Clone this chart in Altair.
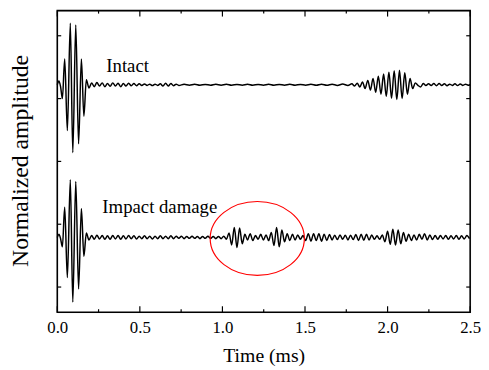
import altair as alt
import pandas as pd

# ---- axis ticks / labels ----
X_TICKS = [0.0, 0.5, 1.0, 1.5, 2.0, 2.5]
X_MINOR = [0.25, 0.75, 1.25, 1.75, 2.25]
Y_TICKS = [-2, -1, 0, 1, 2]

# vertical offsets of the two traces (normalized units)
INTACT_OFFSET = 1.22
DAMAGE_OFFSET = -1.21

# ---- Intact trace: (time ms, amplitude) extrema ----
intact_burst = [(0.000, 0.00), (0.010, 0.06), (0.020, -0.03), (0.031, -0.22), (0.045, 0.41),
                (0.061, -0.73), (0.079, 0.98), (0.094, -1.08), (0.112, 0.95), (0.129, -0.94),
                (0.146, 0.41), (0.161, -0.50), (0.176, 0.08)]
intact_tail = [(0.192, -0.05), (0.208, 0.03), (0.224, -0.03), (0.240, 0.035), (0.256, -0.02),
               (0.272, 0.03), (0.288, -0.03), (0.304, 0.02), (0.320, -0.025), (0.336, 0.03),
               (0.352, -0.02), (0.368, 0.025), (0.384, -0.03), (0.400, 0.02), (0.416, -0.02),
               (0.432, 0.025), (0.448, -0.015), (0.464, 0.02), (0.480, -0.015), (0.496, 0.015),
               (0.512, -0.01), (0.528, 0.012), (0.544, -0.01), (0.560, 0.01), (0.576, -0.012),
               (0.592, 0.01), (0.608, -0.01), (0.624, 0.015), (0.640, -0.02), (0.656, 0.025),
               (0.672, -0.02), (0.688, 0.02), (0.704, -0.015), (0.720, 0.01), (0.736, -0.01)]
intact_flat = [(0.768, 0.008), (0.800, -0.006), (0.832, 0.008), (0.864, -0.008), (0.896, 0.006),
               (0.928, -0.008), (0.960, 0.008), (0.992, -0.006), (1.024, 0.008), (1.056, -0.008),
               (1.088, 0.006), (1.120, -0.006), (1.152, 0.008), (1.184, -0.008), (1.216, 0.006),
               (1.248, -0.006), (1.280, 0.008), (1.312, -0.008), (1.344, 0.006), (1.376, -0.006),
               (1.408, 0.008), (1.440, -0.008), (1.472, 0.006), (1.504, -0.006), (1.536, 0.008),
               (1.568, -0.008), (1.600, 0.008), (1.632, -0.008), (1.664, 0.010), (1.696, -0.010),
               (1.728, 0.012), (1.760, -0.012), (1.784, 0.015)]
intact_echo = [(1.800, -0.02), (1.816, 0.025), (1.832, -0.035), (1.848, 0.045), (1.864, -0.06),
               (1.880, 0.07), (1.896, -0.085), (1.912, 0.10), (1.928, -0.12), (1.944, 0.135),
               (1.960, -0.15), (1.976, 0.17), (1.992, -0.185), (2.008, 0.20), (2.024, -0.215),
               (2.040, 0.225), (2.056, -0.235), (2.072, 0.23), (2.088, -0.22), (2.104, 0.19),
               (2.120, -0.15), (2.136, 0.10), (2.152, -0.06), (2.168, 0.03), (2.184, -0.01)]
intact_end = [(2.200, -0.035), (2.216, 0.02), (2.232, -0.01), (2.248, 0.015), (2.264, -0.01),
              (2.280, 0.02), (2.296, -0.015), (2.312, 0.02), (2.328, -0.01), (2.344, 0.015),
              (2.360, -0.015), (2.376, 0.01), (2.392, -0.01), (2.408, 0.015), (2.424, -0.012),
              (2.440, 0.012), (2.456, -0.01), (2.472, 0.01), (2.488, -0.008), (2.500, 0.0)]

# ---- Impact damage trace ----
damage_burst = [(0.000, 0.00), (0.010, 0.05), (0.020, -0.02), (0.031, -0.15), (0.045, 0.48),
                (0.061, -0.64), (0.079, 0.92), (0.094, -1.03), (0.112, 0.89), (0.129, -0.82),
                (0.146, 0.46), (0.161, -0.30), (0.176, 0.07)]
damage_tail = [(0.192, -0.04), (0.208, 0.03), (0.224, -0.03), (0.240, 0.035), (0.256, -0.025),
               (0.272, 0.03), (0.288, -0.03), (0.304, 0.025), (0.320, -0.03), (0.336, 0.03),
               (0.352, -0.025), (0.368, 0.03), (0.384, -0.03), (0.400, 0.025), (0.416, -0.025),
               (0.432, 0.03), (0.448, -0.02), (0.464, 0.025), (0.480, -0.025), (0.496, 0.02),
               (0.512, -0.02), (0.528, 0.025), (0.544, -0.02), (0.560, 0.02), (0.576, -0.025),
               (0.592, 0.02), (0.608, -0.02), (0.624, 0.025), (0.640, -0.02), (0.656, 0.02),
               (0.672, -0.02), (0.688, 0.025), (0.704, -0.02), (0.720, 0.02), (0.736, -0.015),
               (0.752, 0.02), (0.768, -0.02), (0.784, 0.015), (0.800, -0.015), (0.816, 0.02),
               (0.832, -0.015), (0.848, 0.015), (0.864, -0.02), (0.880, 0.015), (0.896, -0.015),
               (0.912, 0.02), (0.928, -0.015), (0.944, 0.015), (0.960, -0.02), (0.976, 0.015),
               (0.992, -0.02), (1.008, 0.02), (1.024, -0.03)]
damage_packet1 = [(1.040, 0.07), (1.056, -0.12), (1.072, 0.16), (1.088, -0.16), (1.104, 0.15),
                  (1.120, -0.10)]
damage_mid = [(1.136, 0.05), (1.152, -0.04), (1.168, 0.06), (1.184, -0.05), (1.200, 0.03),
              (1.216, -0.03), (1.232, 0.05), (1.248, -0.04), (1.264, 0.04), (1.280, -0.05)]
damage_packet2 = [(1.296, 0.08), (1.312, -0.13), (1.328, 0.16), (1.344, -0.15), (1.360, 0.12)]
damage_after = [(1.376, -0.07), (1.392, 0.06), (1.408, -0.05), (1.424, 0.05), (1.440, -0.04),
                (1.456, 0.04), (1.472, -0.03), (1.488, 0.03), (1.504, -0.05), (1.520, 0.06),
                (1.536, -0.06), (1.552, 0.06), (1.568, -0.05), (1.584, 0.06), (1.600, -0.06),
                (1.616, 0.05), (1.632, -0.05), (1.648, 0.045), (1.664, -0.04), (1.680, 0.035),
                (1.696, -0.035), (1.712, 0.04), (1.728, -0.03), (1.744, 0.035), (1.760, -0.04),
                (1.776, 0.035), (1.792, -0.035), (1.808, 0.045), (1.824, -0.05), (1.840, 0.05),
                (1.856, -0.045), (1.872, 0.05), (1.888, -0.04), (1.904, 0.04), (1.920, -0.03),
                (1.936, 0.025), (1.952, -0.03), (1.968, 0.04)]
damage_packet3 = [(1.984, -0.07), (2.000, 0.10), (2.016, -0.11), (2.032, 0.13), (2.048, -0.12),
                  (2.064, 0.12), (2.080, -0.10), (2.096, 0.08)]
damage_end = [(2.112, -0.06), (2.128, 0.05), (2.144, -0.05), (2.160, 0.04), (2.176, -0.04),
              (2.192, 0.05), (2.208, -0.03), (2.224, 0.06), (2.240, -0.04), (2.256, 0.04),
              (2.272, -0.035), (2.288, 0.03), (2.304, -0.03), (2.320, 0.03), (2.336, -0.025),
              (2.352, 0.03), (2.368, -0.03), (2.384, 0.025), (2.400, -0.025), (2.416, 0.03),
              (2.432, -0.03), (2.448, 0.025), (2.464, -0.025), (2.480, 0.03), (2.496, -0.02)]

LABELS = [("Intact", 0.297, 1.427), ("Impact damage", 0.273, -0.82)]
ELLIPSE = [(1.211, -1.227)]

FONT = "Liberation Serif"

rows = []
i = 0
for name, off, parts in [
    ("Intact", INTACT_OFFSET, [intact_burst, intact_tail, intact_flat, intact_echo, intact_end]),
    ("Impact damage", DAMAGE_OFFSET, [damage_burst, damage_tail, damage_packet1, damage_mid,
                                      damage_packet2, damage_after, damage_packet3, damage_end]),
]:
    for part in parts:
        for t, a in part:
            rows.append({"t": t, "v": a + off, "s": name, "o": i})
            i += 1
wave_df = pd.DataFrame(rows)

xscale = alt.Scale(domain=[0, 2.5], nice=False, zero=False)
yscale = alt.Scale(domain=[-2.4, 2.4], nice=False, zero=False)

XAXIS = alt.Axis(values=X_TICKS, format=".1f", ticks=False, domain=False, grid=False,
                 labelFlush=False, labelPadding=8, labelFontSize=17, labelFont=FONT,
                 labelColor="black", title="Time (ms)", titleFont=FONT, titleFontSize=20,
                 titleFontWeight="normal", titleColor="black", titleBaseline="alphabetic",
                 titleY=50)
YAXIS = alt.Axis(labels=False, ticks=False, domain=False, grid=False,
                 title="Normalized amplitude", titleFont=FONT, titleFontSize=24,
                 titleFontWeight="normal", titleColor="black", titleAngle=270,
                 titleAlign="center", titleBaseline="alphabetic", titleX=-30, titleY=152)

def X(field="t"):
    return alt.X(f"{field}:Q", scale=xscale, axis=XAXIS, title="Time (ms)")

def Y(field="v"):
    return alt.Y(f"{field}:Q", scale=yscale, axis=YAXIS, title="Normalized amplitude")

W, H = 419, 306

waves = alt.Chart(wave_df).mark_line(color="black", strokeWidth=1.5, interpolate="monotone").encode(
    x=X(), y=Y(), detail="s:N", order="o:Q")

lab_df = pd.DataFrame([{"txt": a, "t": b, "v": c} for a, b, c in LABELS])
labels = alt.Chart(lab_df).mark_text(align="left", baseline="alphabetic", font=FONT, fontSize=19,
                                     color="black").encode(x=X(), y=Y(), text="txt:N")

ell_df = pd.DataFrame([{"t": a, "v": b} for a, b in ELLIPSE])
ellipse = alt.Chart(ell_df).mark_point(
    shape="M -1 0 A 1 0.785 0 1 0 1 0 A 1 0.785 0 1 0 -1 0",
    filled=False, stroke="red", strokeWidth=1.2, size=9139, opacity=1).encode(x=X(), y=Y())

xmaj = pd.DataFrame({"t": X_TICKS})
xmin = pd.DataFrame({"t": X_MINOR})
yt = pd.DataFrame({"v": Y_TICKS})

def xrule(df, y1, y2):
    return alt.Chart(df).mark_rule(color="black", strokeWidth=1.2).encode(
        x=X(), y=alt.value(y1), y2=alt.value(y2))

def yrule(x1, x2):
    return alt.Chart(yt).mark_rule(color="black", strokeWidth=1.2).encode(
        y=Y(), x=alt.value(x1), x2=alt.value(x2))

ticks = [xrule(xmaj, H, H - 6), xrule(xmin, H, H - 3), xrule(xmaj, 0, 6), xrule(xmin, 0, 3),
         yrule(0, 4), yrule(W, W - 4)]

frame = alt.Chart(pd.DataFrame({"k": [0]})).mark_rect(
    filled=False, stroke="black", strokeWidth=1.6, fillOpacity=0).encode(
    x=alt.value(0), x2=alt.value(W), y=alt.value(0), y2=alt.value(H))

chart = alt.layer(waves, labels, ellipse, *ticks, frame).properties(
    width=W, height=H,
    autosize=alt.AutoSizeParams(type="none"),
    padding={"left": 50, "top": 0, "right": 11, "bottom": 56},
).configure_view(strokeWidth=0).configure(background="white")

chart.save("out.html", embed_options={"renderer": "svg", "actions": False})
